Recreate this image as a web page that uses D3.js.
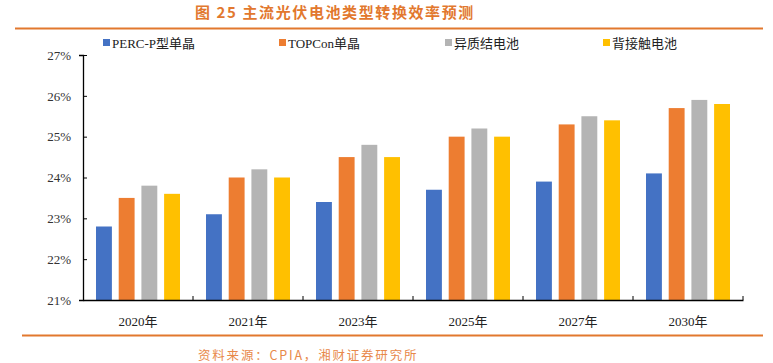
<!DOCTYPE html>
<html>
<head>
<meta charset="utf-8">
<script src="https://cdn.jsdelivr.net/npm/d3@7"></script>
<style>
  body { margin: 0; background: #fff; }
  svg { display: block; }
</style>
</head>
<body>
<svg id="chart" width="773" height="363"></svg>
<script>
const categories = ['2020年', '2021年', '2023年', '2025年', '2027年', '2030年'];
const seriesNames = ['PERC-P型单晶', 'TOPCon单晶', '异质结电池', '背接触电池'];
const perc = [22.8, 23.1, 23.4, 23.7, 23.9, 24.1];
const topcon = [23.5, 24.0, 24.5, 25.0, 25.3, 25.7];
const hjt = [23.8, 24.2, 24.8, 25.2, 25.5, 25.9];
const ibc = [23.6, 24.0, 24.5, 25.0, 25.4, 25.8];
const yTicks = [21, 22, 23, 24, 25, 26, 27];
const colors = ['#4472C4', '#ED7D31', '#B4B4B4', '#FFC000'];

const allSeries = [perc, topcon, hjt, ibc];
const serif = '"Liberation Serif", "Times New Roman", "Noto Sans CJK SC", serif';

const svg = d3.select('#chart');

// title + rules
svg.append('text')
  .attr('x', 195).attr('y', 18)
  .attr('font-family', '"Noto Sans CJK SC", sans-serif')
  .attr('font-weight', 'bold')
  .attr('font-size', 15)
  .attr('letter-spacing', 1.6)
  .attr('fill', '#E2782E')
  .text('图 25 主流光伏电池类型转换效率预测');

svg.append('line').attr('x1', 15).attr('x2', 763).attr('y1', 28.5).attr('y2', 28.5)
  .attr('stroke', '#E2782E').attr('stroke-width', 2);
svg.append('line').attr('x1', 22).attr('x2', 763).attr('y1', 335.5).attr('y2', 335.5)
  .attr('stroke', '#E2782E').attr('stroke-width', 2);

svg.append('text')
  .attr('x', 198).attr('y', 360)
  .attr('font-family', '"Noto Sans CJK SC", sans-serif')
  .attr('font-size', 12.5)
  .attr('letter-spacing', 1.8)
  .attr('fill', '#E8894A')
  .text('资料来源：CPIA，湘财证券研究所');

// plot
const plotLeft = 83, plotRight = 743, plotTop = 55, plotBottom = 300;

const x0 = d3.scaleBand().domain(categories).range([plotLeft, plotRight]).paddingInner(0).paddingOuter(0);
const x1 = d3.scaleBand().domain(d3.range(4)).range([13, 110 - 13]).paddingInner(0.3).paddingOuter(0);
const y = d3.scaleLinear().domain([21, 27]).range([plotBottom, plotTop]);

const groups = svg.append('g').selectAll('g')
  .data(categories)
  .join('g')
  .attr('transform', d => `translate(${x0(d)},0)`);

groups.selectAll('rect')
  .data((d, i) => allSeries.map((s, k) => ({ k, v: s[i] })))
  .join('rect')
  .attr('x', d => x1(d.k))
  .attr('y', d => y(d.v))
  .attr('width', x1.bandwidth())
  .attr('height', d => y(21) - y(d.v))
  .attr('fill', d => colors[d.k]);

// y axis
const yAxis = svg.append('g')
  .attr('transform', `translate(${plotLeft},0)`)
  .call(d3.axisLeft(y).tickValues(yTicks).tickSize(4).tickSizeOuter(4).tickFormat(d => d + '%'));
yAxis.select('.domain').attr('stroke', '#000').attr('stroke-width', 1.3);
yAxis.selectAll('.tick line').attr('stroke', '#000').attr('x2', 4).attr('x1', 0);
yAxis.selectAll('.tick text')
  .attr('x', -12)
  .attr('font-family', serif).attr('font-size', 13).attr('fill', '#333');

// x axis
const xAxis = svg.append('g')
  .attr('transform', `translate(0,${plotBottom})`)
  .call(d3.axisBottom(x0).tickSize(0).tickSizeOuter(0));
xAxis.select('.domain').attr('stroke', '#000').attr('stroke-width', 1.3);
xAxis.selectAll('.tick text')
  .attr('dy', 0).attr('y', 26)
  .attr('font-family', serif).attr('font-size', 13).attr('fill', '#222');

// x tick marks at band boundaries
svg.append('g').selectAll('line')
  .data(categories.slice(1).concat(['end']))
  .join('line')
  .attr('x1', (d, i) => i < categories.length - 1 ? x0(d) : plotRight)
  .attr('x2', (d, i) => i < categories.length - 1 ? x0(d) : plotRight)
  .attr('y1', plotBottom).attr('y2', plotBottom - 4)
  .attr('stroke', '#000');

// legend
const legendX = [103, 279, 445, 603];
const legend = svg.append('g').selectAll('g')
  .data(seriesNames)
  .join('g')
  .attr('transform', (d, i) => `translate(${legendX[i]},43)`);
legend.append('rect')
  .attr('x', 0).attr('y', -4).attr('width', 7).attr('height', 7)
  .attr('fill', (d, i) => colors[i]);
legend.append('text')
  .attr('x', 9).attr('y', 5)
  .attr('font-family', serif).attr('font-size', 13).attr('fill', '#222')
  .text(d => d);
</script>
</body>
</html>
